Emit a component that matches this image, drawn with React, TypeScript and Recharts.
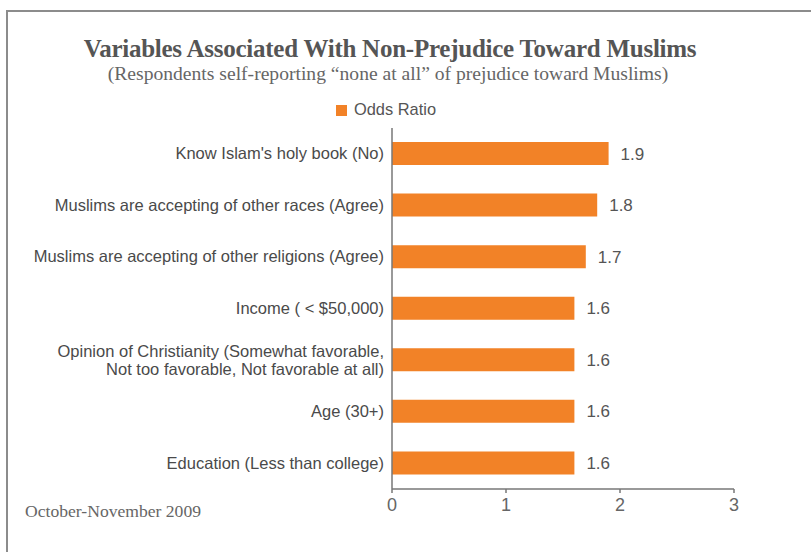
import { BarChart, Bar, XAxis, YAxis, Legend, LabelList } from 'recharts'

const CATEGORIES = [
  "Know Islam's holy book (No)",
  'Muslims are accepting of other races (Agree)',
  'Muslims are accepting of other religions (Agree)',
  'Income ( < $50,000)',
  'Opinion of Christianity (Somewhat favorable,\nNot too favorable, Not favorable at all)',
  'Age (30+)',
  'Education (Less than college)',
]
const ODDS_RATIO = [1.9, 1.8, 1.7, 1.6, 1.6, 1.6, 1.6]
const X_TICKS = [0, 1, 2, 3]

const ORANGE = '#f28227'
const SANS = '"Liberation Sans", Arial, sans-serif'
const SERIF = '"Liberation Serif", "Times New Roman", serif'

const data = CATEGORIES.map((name, i) => ({ name, value: ODDS_RATIO[i] }))

function CategoryTick(props: any) {
  const { x, y, payload } = props
  const lines = String(payload.value).split('\n')
  const lh = 18
  const start = -((lines.length - 1) * lh) / 2
  return (
    <text x={x} y={y} textAnchor="end" fill="#4a4a4a" fontSize={16.5} fontFamily={SANS}>
      {lines.map((l, i) => (
        <tspan key={i} x={x} dy={i === 0 ? start + 5.5 : lh}>{l}</tspan>
      ))}
    </text>
  )
}

export default function App() {
  return (
    <div style={{ position: 'absolute', left: 0, top: 0, width: 811, height: 552, background: '#fff', overflow: 'hidden' }}>
      <div style={{ position: 'absolute', left: 6, top: 10, width: 840, height: 580, border: '2px solid #8c8c8c' }} />
      <div style={{ position: 'absolute', left: 0, top: 35, width: 780, textAlign: 'center', fontFamily: SERIF, fontWeight: 'bold', fontSize: 25, letterSpacing: -0.25, color: '#555' }}>
        Variables Associated With Non-Prejudice Toward Muslims
      </div>
      <div style={{ position: 'absolute', left: 0, top: 63, width: 776, textAlign: 'center', fontFamily: SERIF, fontSize: 19.6, color: '#666' }}>
        (Respondents self-reporting “none at all” of prejudice toward Muslims)
      </div>
      <div style={{ position: 'absolute', left: 25, top: 501, fontFamily: SERIF, fontSize: 17.6, color: '#666' }}>
        October-November 2009
      </div>
      <div style={{ position: 'absolute', left: 0, top: 0 }}>
        <BarChart
          width={811}
          height={552}
          data={data}
          layout="vertical"
          margin={{ top: 128, right: 77, left: 0, bottom: 33 }}
          barCategoryGap={0}
        >
          <XAxis
            type="number"
            domain={[0, 3]}
            ticks={X_TICKS}
            height={30}
            axisLine={{ stroke: '#777', strokeWidth: 1.5 }}
            tickLine={{ stroke: '#777', strokeWidth: 1.5 }}
            tickSize={4}
            tickMargin={5}
            tick={{ fill: '#666', fontSize: 18, fontFamily: SANS }}
          />
          <YAxis
            type="category"
            dataKey="name"
            width={392}
            axisLine={{ stroke: '#777', strokeWidth: 1.5 }}
            tickLine={false}
            tick={<CategoryTick />}
            interval={0}
          />
          <Legend
            layout="horizontal"
            verticalAlign="middle"
            align="center"
            iconType="square"
            iconSize={11}
            wrapperStyle={{ top: 100, left: 0, width: 782, fontFamily: SANS, fontSize: 16.4 }}
            formatter={(v: string) => <span style={{ color: '#555', marginLeft: 3 }}>{v}</span>}
          />
          <Bar dataKey="value" name="Odds Ratio" fill={ORANGE} barSize={23} isAnimationActive={false}>
            <LabelList dataKey="value" position="right" offset={12} fill="#555" fontSize={17} fontFamily={SANS} formatter={(v: any) => Number(v).toFixed(1)} />
          </Bar>
        </BarChart>
      </div>
    </div>
  )
}
